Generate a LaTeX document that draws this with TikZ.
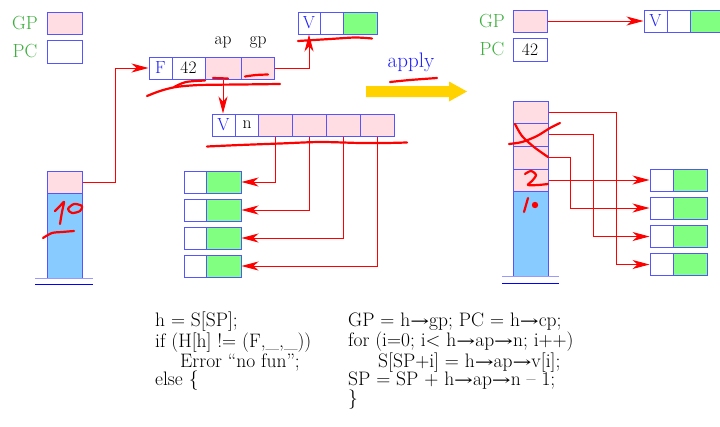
\documentclass[tikz,border=0pt]{standalone}
\usepackage{fontspec}
\usepackage{graphicx}
\newfontfamily\arrowfont{DejaVu Serif}
\newcommand{\ar}{\scalebox{1.5}[1]{\arrowfont\fontsize{15}{15}\selectfont →}}
\usetikzlibrary{arrows.meta,calc}
\definecolor{cb}{RGB}{85,85,255}
\definecolor{pinkc}{RGB}{255,221,226}
\definecolor{greenc}{RGB}{128,255,128}
\definecolor{stackc}{RGB}{136,204,255}
\definecolor{labgreen}{RGB}{60,175,60}
\definecolor{vblue}{RGB}{30,30,255}
\definecolor{yellowc}{RGB}{255,210,0}
\begin{document}
\begin{tikzpicture}[x=1pt,y=-1pt,
  cell/.style={draw=cb,line width=1pt,inner sep=0pt,minimum height=22pt,font=\fontsize{17.5}{17.5}\selectfont},
  pk/.style={cell,fill=pinkc},
  gr/.style={cell,fill=greenc},
  wh/.style={cell,fill=white},
  sk/.style={cell,fill=stackc},
  lab/.style={text=labgreen,inner sep=0pt,font=\fontsize{19}{19}\selectfont},
  small/.style={inner sep=0pt,font=\fontsize{17.5}{17.5}\selectfont},
  conn/.style={draw=red,line width=0.9pt},
  arr/.style={conn,-{Stealth[length=17pt,width=9pt,inset=5pt]}},
  scrib/.style={draw=red,line width=2.2pt,line cap=round,line join=round},
  code/.style={anchor=base west,inner sep=0pt,align=left,font=\fontsize{19.5}{18.5}\selectfont}]
\useasboundingbox (0,0) rectangle (720,426);
\clip (0,0) rectangle (720,426);
% ---- left: GP / PC
\node[lab] (gpAl) at (25,23) {GP};
\node[lab] (pcAl) at (25,51.5) {PC};
\node[pk,minimum width=35pt] (gpA) at (64.5,23) {};
\node[wh,minimum width=35pt,minimum height=23pt] (pcA) at (64.5,51.5) {};
% ---- F record
\node[wh,minimum width=23pt,text=vblue] (fF) at (160.5,68) {F};
\node[wh,minimum width=33pt] (f42) at (188.5,68) {42};
\node[pk,minimum width=36pt] (fap) at (223,68) {};
\node[pk,minimum width=33pt] (fgp) at (257.5,68) {};
\node[small] (lap) at (223,42) {ap};
\node[small] (lgp) at (258,42) {gp};
% ---- top V record
\node[wh,minimum width=22pt,text=vblue] (tvV) at (309,23) {V};
\node[wh,minimum width=23pt] (tvW) at (331.5,23) {};
\node[gr,minimum width=34pt] (tvG) at (360,23) {};
% ---- V n record
\node[wh,minimum width=23pt,text=vblue] (vnV) at (223.5,125) {V};
\node[wh,minimum width=24pt] (vnN) at (247,125) {n};
\node[pk,minimum width=33.7pt] (p1) at (275.2,125) {};
\node[pk,minimum width=34pt] (p2) at (309,125) {};
\node[pk,minimum width=34.5pt] (p3) at (343.3,125) {};
\node[pk,minimum width=33.5pt] (p4) at (377.3,125) {};
% ---- left stack
\node[pk,minimum width=35pt] (s1) at (64.5,182) {};
\node[sk,minimum width=35pt,minimum height=85pt] (sb) at (64.5,235.5) {};
\draw[draw=cb!60,line width=1pt] (35,278.3) -- (92.7,278.3);
\draw[draw=blue,line width=1pt] (35,284.3) -- (92.7,284.3);
% ---- left small records
\foreach \i/\y in {1/182,2/210,3/238,4/266}{
  \node[wh,minimum width=22pt] (lw\i) at (195,\y) {};
  \node[gr,minimum width=35pt] (lg\i) at (223.5,\y) {};
}
% ---- connectors left
\coordinate (xs) at (115,0);
\draw[arr] (s1.east) -- (s1.east -| xs) |- (fF.west);
\draw[arr] (fgp.east) -| (tvV.south);
\draw[arr] (fap.south) -- (fap.south |- vnV.north);
\draw[arr] (p1.south) |- (lg1.east);
\draw[arr] (p2.south) |- (lg2.east);
\draw[arr] (p3.south) |- (lg3.east);
\draw[arr] (p4.south) |- (lg4.east);
% ---- apply arrow
\node[text=vblue,inner sep=0pt,font=\fontsize{21}{21}\selectfont] (apply) at (411,62) {apply};
\fill[yellowc] (366,86) -- (449,86) -- (449,81.5) -- (467,91.5) -- (449,101.5) -- (449,97) -- (366,97) -- cycle;
% ---- right: GP / PC
\node[lab] (gpBl) at (492,21) {GP};
\node[lab] (pcBl) at (492,49.5) {PC};
\node[pk,minimum width=34pt] (gpB) at (530,21) {};
\node[wh,minimum width=34pt,minimum height=23pt] (pcB) at (530,49.5) {42};
\node[wh,minimum width=23pt,text=vblue] (rvV) at (655.5,21) {V};
\node[wh,minimum width=23pt] (rvW) at (678.5,21) {};
\node[gr,minimum width=40pt] (rvG) at (710,21) {};
\draw[arr] (gpB.east) -- (rvV.west);
% ---- right stack
\node[pk,minimum width=35pt] (r1) at (530.5,112) {};
\node[pk,minimum width=35pt,minimum height=23pt] (r2) at (530.5,134.5) {};
\node[pk,minimum width=35pt,minimum height=23pt] (r3) at (530.5,157.5) {};
\node[pk,minimum width=35pt] (r4) at (530.5,180) {};
\node[sk,minimum width=35pt,minimum height=85pt] (rb) at (530.5,233.5) {};
\draw[draw=cb!60,line width=1pt] (502,276) -- (559,276);
\draw[draw=blue,line width=1pt] (502,283) -- (559,283);
\foreach \i/\y in {1/180,2/208,3/236.5,4/264.5}{
  \node[wh,minimum width=23pt] (rw\i) at (661.5,\y) {};
  \node[gr,minimum width=34pt] (rg\i) at (690,\y) {};
}
\coordinate (x1) at (616,0);
\coordinate (x2) at (593,0);
\coordinate (x3) at (570,0);
\draw[arr] (r1.east) -- (r1.east -| x1) |- (rw4.west);
\draw[arr] (r2.east) -- (r2.east -| x2) |- (rw3.west);
\draw[arr] (r3.east) -- (r3.east -| x3) |- (rw2.west);
\draw[arr] (r4.east) -- (rw1.west);
% ---- code (base anchor = baseline of last line)
\node[code] (codeL) at (155,385.5) {h = S[SP];\\
  if (H[h] != (F,\_,\_))\\
  \hspace*{25pt}Error “no fun”;\\
  else \{};
\node[code] (codeR) at (348,404) {GP = h\ar gp; PC = h\ar cp;\\
  for (i=0; i< h\ar ap\ar n; i++)\\
  \hspace*{30pt}S[SP+i] = h\ar ap\ar v[i];\\
  SP = SP + h\ar ap\ar n – 1;\\
  \}};
% ---- handwritten annotations
\draw[scrib] plot[smooth] coordinates {(147,96) (160,91) (176,87) (200,85) (240,84.5) (280,84)};
\draw[scrib] plot[smooth] coordinates {(174,87) (186,82) (205,80.5)};
\draw[scrib] (213,78) -- (228,78.5);
\draw[scrib] plot[smooth] coordinates {(245,76.5) (256,75) (268,74.5)};
\draw[scrib] plot[smooth] coordinates {(298,41) (330,39) (355,37.5) (372,38.5)};
\draw[scrib] plot[smooth] coordinates {(390,82) (410,80) (437,78)};
\draw[scrib] plot[smooth] coordinates {(207,146.5) (240,145) (280,143.5) (320,142) (360,143) (385,143) (407,142.5)};
\draw[scrib] plot[smooth] coordinates {(55,211) (60,206) (64,202) (62,212) (60,224)};
\draw[scrib] plot[smooth cycle] coordinates {(68,209) (74,204) (82,206) (80,211) (72,213)};
\draw[scrib] plot[smooth] coordinates {(43,238) (52,233) (62,232) (74,231)};
\draw[scrib] plot[smooth] coordinates {(515,124) (522,136) (534,147) (548,157)};
\draw[scrib] plot[smooth] coordinates {(509,144) (522,142) (537,136) (550,128) (560,123)};
\draw[scrib] plot[smooth] coordinates {(525,174) (531,171) (536,175) (532,181) (528,185) (538,185) (548,184)};
\draw[scrib] (528,198) -- (524,212);
\fill[red] (535,205) circle (3.2pt);
\end{tikzpicture}
\end{document}
